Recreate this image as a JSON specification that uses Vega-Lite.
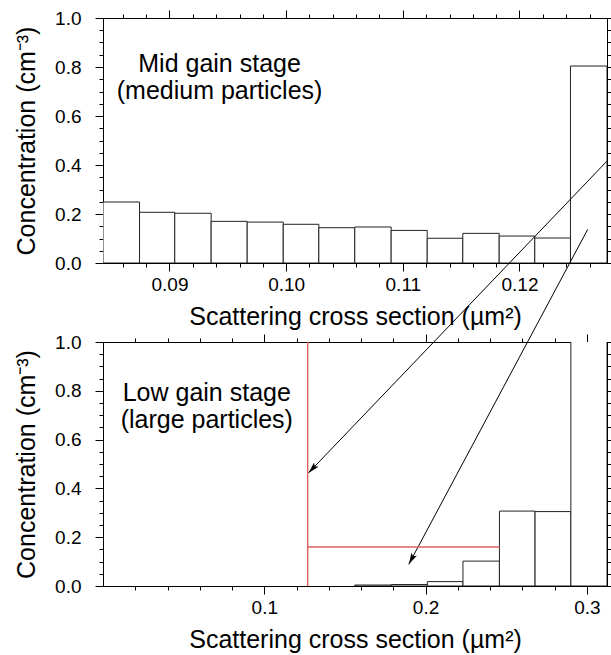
{
  "$schema": "https://vega.github.io/schema/vega-lite/v6.json",
  "background": "white",
  "padding": {"left": 14, "top": 8, "right": 0, "bottom": 0},
  "bounds": "flush",
  "spacing": 79,
  "config": {
    "view": {"stroke": "black", "strokeWidth": 1},
    "axis": {
      "grid": false, "domainColor": "black", "tickColor": "black", "labelColor": "black", "titleColor": "black",
      "labelFont": "Liberation Sans", "titleFont": "Liberation Sans", "labelFontSize": 19, "titleFontSize": 25,
      "titleFontWeight": "normal", "labelFlush": false, "labelOverlap": false, "tickWidth": 1, "domainWidth": 1
    },
    "text": {"font": "Liberation Sans"}
  },
  "vconcat": [
    {
      "width": 504, "height": 245,
      "resolve": {"axis": {"x": "independent", "y": "independent"}},
      "layer": [
        {
          "data": {"name": "topbars", "values": [
            {"x0": 0.0843, "x1": 0.08743, "c": 0.249},
            {"x0": 0.08743, "x1": 0.09045, "c": 0.207},
            {"x0": 0.09045, "x1": 0.09357, "c": 0.203},
            {"x0": 0.09357, "x1": 0.09666, "c": 0.170},
            {"x0": 0.09666, "x1": 0.09975, "c": 0.167},
            {"x0": 0.09975, "x1": 0.10280, "c": 0.158},
            {"x0": 0.10280, "x1": 0.10588, "c": 0.144},
            {"x0": 0.10588, "x1": 0.10900, "c": 0.147},
            {"x0": 0.10900, "x1": 0.11209, "c": 0.133},
            {"x0": 0.11209, "x1": 0.11514, "c": 0.101},
            {"x0": 0.11514, "x1": 0.11826, "c": 0.121},
            {"x0": 0.11826, "x1": 0.12131, "c": 0.110},
            {"x0": 0.12131, "x1": 0.12437, "c": 0.102},
            {"x0": 0.12437, "x1": 0.1275, "c": 0.804}
          ]},
          "mark": {"type": "rect", "fill": "white", "stroke": "#222", "strokeWidth": 1, "clip": true},
          "encoding": {
            "x": {"field": "x0", "type": "quantitative", "scale": {"domain": [0.0843, 0.1275], "nice": false, "zero": false},
              "axis": {"orient": "bottom", "title": "Scattering cross section (µm²)",
                "values": [0.086, 0.088, 0.09, 0.092, 0.094, 0.096, 0.098, 0.1, 0.102, 0.104, 0.106, 0.108, 0.11, 0.112, 0.114, 0.116, 0.118, 0.12, 0.122, 0.124, 0.126],
                "labelExpr": "abs(datum.value*100 - round(datum.value*100)) < 1e-6 ? format(datum.value, '.2f') : ''",
                "tickSize": {"condition": {"test": "abs(datum.value*100 - round(datum.value*100)) < 1e-6", "value": 8}, "value": 4},
                "labelPadding": 4, "titlePadding": 10}},
            "x2": {"field": "x1"},
            "y": {"field": "c", "type": "quantitative", "scale": {"domain": [0, 1], "nice": false},
              "axis": {"orient": "left", "title": "Concentration (cm⁻³)",
                "values": [0, 0.05, 0.1, 0.15, 0.2, 0.25, 0.3, 0.35, 0.4, 0.45, 0.5, 0.55, 0.6, 0.65, 0.7, 0.75, 0.8, 0.85, 0.9, 0.95, 1],
                "labelExpr": "abs(datum.value*5 - round(datum.value*5)) < 1e-6 ? format(datum.value, '.1f') : ''",
                "tickSize": {"condition": {"test": "abs(datum.value*5 - round(datum.value*5)) < 1e-6", "value": 8}, "value": 4},
                "labelPadding": 14, "titlePadding": 15}},
            "y2": {"datum": 0}
          }
        },
        {
          "data": {"name": "arrows", "values": [
            {"id": "a1", "xs": 0.1275, "ys": 0.416, "xe": 0.10191, "ye": -0.857},
            {"id": "a2", "xs": 0.12585, "ys": 0.1376, "xe": 0.11051, "ye": -1.2298}
          ]},
          "mark": {"type": "rule", "color": "black", "strokeWidth": 1, "clip": false},
          "encoding": {
            "x": {"field": "xs", "type": "quantitative", "scale": {"domain": [0.0843, 0.1275], "nice": false, "zero": false},
              "axis": {"orient": "top", "title": null, "labels": false,
                "values": [0.086, 0.088, 0.09, 0.092, 0.094, 0.096, 0.098, 0.1, 0.102, 0.104, 0.106, 0.108, 0.11, 0.112, 0.114, 0.116, 0.118, 0.12, 0.122, 0.124, 0.126],
                "tickSize": {"condition": {"test": "abs(datum.value*100 - round(datum.value*100)) < 1e-6", "value": 8}, "value": 4}}},
            "x2": {"field": "xe"},
            "y": {"field": "ys", "type": "quantitative", "scale": {"domain": [0, 1], "nice": false},
              "axis": {"orient": "right", "title": null, "labels": false,
                "values": [0, 0.05, 0.1, 0.15, 0.2, 0.25, 0.3, 0.35, 0.4, 0.45, 0.5, 0.55, 0.6, 0.65, 0.7, 0.75, 0.8, 0.85, 0.9, 0.95, 1],
                "tickSize": {"condition": {"test": "abs(datum.value*5 - round(datum.value*5)) < 1e-6", "value": 8}, "value": 4}}},
            "y2": {"field": "ye"}
          }
        },
        {
          "data": {"name": "arrows"},
          "transform": [{"filter": "datum.id === 'a1'"}],
          "mark": {"type": "point", "shape": "M0,0 L-0.27,1 L0,0.8 L0.27,1 Z", "filled": true, "size": 520, "color": "black", "opacity": 1, "angle": 223.7, "clip": false},
          "encoding": {
            "x": {"field": "xe", "type": "quantitative", "scale": {"domain": [0.0843, 0.1275], "nice": false, "zero": false}, "axis": null},
            "y": {"field": "ye", "type": "quantitative", "scale": {"domain": [0, 1], "nice": false}, "axis": null}
          }
        },
        {
          "data": {"name": "arrows"},
          "transform": [{"filter": "datum.id === 'a2'"}],
          "mark": {"type": "point", "shape": "M0,0 L-0.27,1 L0,0.8 L0.27,1 Z", "filled": true, "size": 520, "color": "black", "opacity": 1, "angle": 208.1, "clip": false},
          "encoding": {
            "x": {"field": "xe", "type": "quantitative", "scale": {"domain": [0.0843, 0.1275], "nice": false, "zero": false}, "axis": null},
            "y": {"field": "ye", "type": "quantitative", "scale": {"domain": [0, 1], "nice": false}, "axis": null}
          }
        },
        {
          "data": {"values": [
            {"tx": 0.09429, "ty": 0.781, "label": "Mid gain stage"},
            {"tx": 0.09429, "ty": 0.671, "label": "(medium particles)"}
          ]},
          "mark": {"type": "text", "align": "center", "baseline": "alphabetic", "fontSize": 25, "color": "black"},
          "encoding": {
            "x": {"field": "tx", "type": "quantitative", "scale": {"domain": [0.0843, 0.1275], "nice": false, "zero": false}, "axis": null},
            "y": {"field": "ty", "type": "quantitative", "scale": {"domain": [0, 1], "nice": false}, "axis": null},
            "text": {"field": "label"}
          }
        }
      ]
    },
    {
      "width": 504, "height": 244,
      "resolve": {"axis": {"x": "independent", "y": "independent"}},
      "layer": [
        {
          "data": {"values": [
            {"x0": 0.1561, "x1": 0.1787, "c": 0.004},
            {"x0": 0.1787, "x1": 0.2011, "c": 0.006},
            {"x0": 0.2011, "x1": 0.2232, "c": 0.018},
            {"x0": 0.2232, "x1": 0.2458, "c": 0.102},
            {"x0": 0.2458, "x1": 0.2679, "c": 0.307},
            {"x0": 0.2679, "x1": 0.2901, "c": 0.305},
            {"x0": 0.2901, "x1": 0.3125, "c": 1.5}
          ]},
          "mark": {"type": "rect", "fill": "white", "stroke": "#222", "strokeWidth": 1, "clip": true},
          "encoding": {
            "x": {"field": "x0", "type": "quantitative", "scale": {"domain": [0, 0.3125], "nice": false, "zero": false},
              "axis": {"orient": "bottom", "title": "Scattering cross section (µm²)",
                "values": [0.02, 0.04, 0.06, 0.08, 0.1, 0.12, 0.14, 0.16, 0.18, 0.2, 0.22, 0.24, 0.26, 0.28, 0.3],
                "labelExpr": "abs(datum.value*10 - round(datum.value*10)) < 1e-6 ? format(datum.value, '.1f') : ''",
                "tickSize": {"condition": {"test": "abs(datum.value*10 - round(datum.value*10)) < 1e-6", "value": 8}, "value": 4},
                "labelPadding": 4, "titlePadding": 10}},
            "x2": {"field": "x1"},
            "y": {"field": "c", "type": "quantitative", "scale": {"domain": [0, 1], "nice": false},
              "axis": {"orient": "left", "title": "Concentration (cm⁻³)",
                "values": [0, 0.05, 0.1, 0.15, 0.2, 0.25, 0.3, 0.35, 0.4, 0.45, 0.5, 0.55, 0.6, 0.65, 0.7, 0.75, 0.8, 0.85, 0.9, 0.95, 1],
                "labelExpr": "abs(datum.value*5 - round(datum.value*5)) < 1e-6 ? format(datum.value, '.1f') : ''",
                "tickSize": {"condition": {"test": "abs(datum.value*5 - round(datum.value*5)) < 1e-6", "value": 8}, "value": 4},
                "labelPadding": 14, "titlePadding": 15}},
            "y2": {"datum": 0}
          }
        },
        {
          "data": {"values": [
            {"xs": 0.1269, "ys": 0, "xe": 0.1269, "ye": 1},
            {"xs": 0.1269, "ys": 0.16, "xe": 0.2458, "ye": 0.16}
          ]},
          "mark": {"type": "rule", "color": "#e06262", "strokeWidth": 1.5},
          "encoding": {
            "x": {"field": "xs", "type": "quantitative", "scale": {"domain": [0, 0.3125], "nice": false, "zero": false},
              "axis": {"orient": "top", "title": null, "labels": false,
                "values": [0.02, 0.04, 0.06, 0.08, 0.1, 0.12, 0.14, 0.16, 0.18, 0.2, 0.22, 0.24, 0.26, 0.28, 0.3],
                "tickSize": {"condition": {"test": "abs(datum.value*10 - round(datum.value*10)) < 1e-6", "value": 8}, "value": 4}}},
            "x2": {"field": "xe"},
            "y": {"field": "ys", "type": "quantitative", "scale": {"domain": [0, 1], "nice": false},
              "axis": {"orient": "right", "title": null, "labels": false,
                "values": [0, 0.05, 0.1, 0.15, 0.2, 0.25, 0.3, 0.35, 0.4, 0.45, 0.5, 0.55, 0.6, 0.65, 0.7, 0.75, 0.8, 0.85, 0.9, 0.95, 1],
                "tickSize": {"condition": {"test": "abs(datum.value*5 - round(datum.value*5)) < 1e-6", "value": 8}, "value": 4}}},
            "y2": {"field": "ye"}
          }
        },
        {
          "data": {"values": [
            {"tx": 0.06435, "ty": 0.759, "label": "Low gain stage"},
            {"tx": 0.06435, "ty": 0.648, "label": "(large particles)"}
          ]},
          "mark": {"type": "text", "align": "center", "baseline": "alphabetic", "fontSize": 25, "color": "black"},
          "encoding": {
            "x": {"field": "tx", "type": "quantitative", "scale": {"domain": [0, 0.3125], "nice": false, "zero": false}, "axis": null},
            "y": {"field": "ty", "type": "quantitative", "scale": {"domain": [0, 1], "nice": false}, "axis": null},
            "text": {"field": "label"}
          }
        }
      ]
    }
  ]
}
